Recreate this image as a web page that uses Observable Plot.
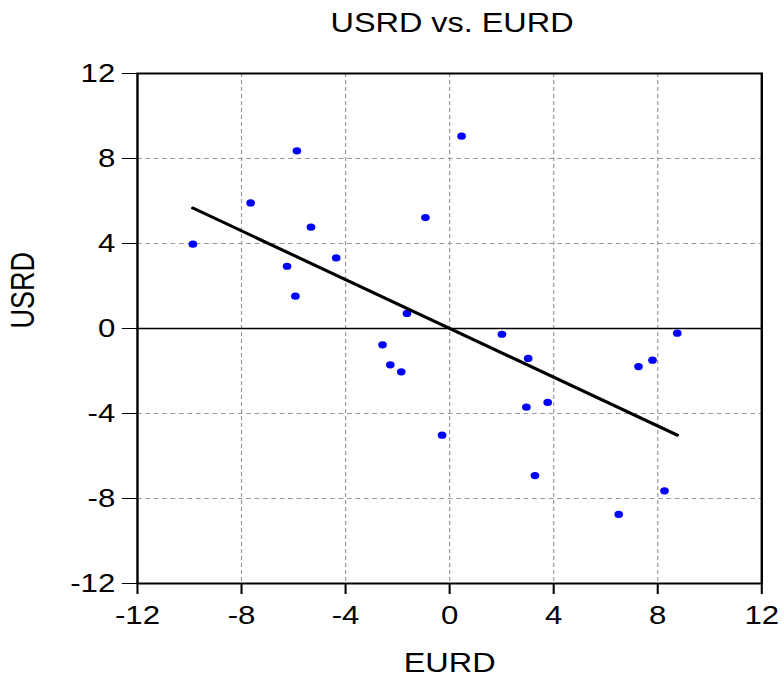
<!DOCTYPE html>
<html>
<head>
<meta charset="utf-8">
<script src="https://cdn.jsdelivr.net/npm/d3@7"></script>
<script src="https://cdn.jsdelivr.net/npm/@observablehq/plot@0.6"></script>
<style>
  html, body { margin: 0; padding: 0; background: #fff; }
  #chart { width: 784px; height: 682px; overflow: hidden; }
</style>
</head>
<body>
<div id="chart"></div>
<script>
// Data
const eurd = [-9.87, -7.65, -5.87, -5.33, -6.25, -5.93, -4.36, -0.93, -1.64, -2.58, -2.28, -1.86,
              -0.29, 0.46, 2.01, 8.75, 3.02, 7.26, 7.80, 2.95, 3.77, 3.28, 6.50, 8.26];
const usrd = [3.97, 5.91, 8.36, 4.77, 2.93, 1.52, 3.32, 5.22, 0.71, -0.77, -1.71, -2.04,
              -5.02, 9.05, -0.27, -0.22, -1.41, -1.79, -1.49, -3.70, -3.48, -6.92, -8.75, -7.64];
const tickValues = [-12, -8, -4, 0, 4, 8, 12];
const gridXValues = [-8, -4, 0, 4, 8];
const gridYValues = [-8, -4, 4, 8];
const titleText = "USRD vs. EURD";
const xLabel = "EURD";
const yLabel = "USRD";

const points = eurd.map((x, i) => ({EURD: x, USRD: usrd[i]}));

// The reference is horizontally stretched; draw at a narrower internal width and stretch.
const W = 653, H = 682;
const font = "'Liberation Sans', Arial, Helvetica, sans-serif";

const svg = Plot.plot({
  width: W,
  height: H,
  marginLeft: 114,
  marginRight: 19,
  marginTop: 73,
  marginBottom: 99,
  style: {fontFamily: font, fontSize: "26px", background: "#fff", color: "#000"},
  x: {domain: [-12, 12]},
  y: {domain: [-12, 12]},
  marks: [
    Plot.gridX(gridXValues, {stroke: "#999", strokeOpacity: 1, strokeWidth: 1, strokeDasharray: "4,3"}),
    Plot.gridY(gridYValues, {stroke: "#999", strokeOpacity: 1, strokeWidth: 1, strokeDasharray: "4,3"}),
    Plot.ruleY([0], {stroke: "#000", strokeWidth: 1.5}),
    Plot.axisX({ticks: tickValues, tickFormat: d => String(d), tickSize: 11, tickPadding: 11,
                strokeWidth: 1.7, fontSize: 26, label: null}),
    Plot.axisY({ticks: tickValues, tickFormat: d => String(d), tickSize: 12.5, tickPadding: 6,
                strokeWidth: 1, fontSize: 26, label: null}),
    Plot.dot(points, {x: "EURD", y: "USRD", r: 3.6, fill: "#0000ff", stroke: "none"}),
    Plot.linearRegressionY(points, {x: "EURD", y: "USRD", ci: 0, stroke: "#000", strokeWidth: 3}),
    Plot.frame({stroke: "#000", strokeWidth: 2}),
    Plot.text([titleText], {text: d => d, frameAnchor: "top", dx: 2, dy: -50.5, lineAnchor: "middle",
                            fontSize: 27, fill: "#000"}),
    Plot.text([xLabel], {text: d => d, frameAnchor: "bottom", dy: 80, lineAnchor: "middle",
                         fontSize: 27, fill: "#000"}),
    Plot.text([yLabel], {text: d => d, frameAnchor: "left", dx: -95, rotate: -90, lineAnchor: "middle",
                         fontSize: 27, fill: "#000"})
  ]
});

svg.setAttribute("viewBox", `0 0 ${W} ${H}`);
svg.setAttribute("preserveAspectRatio", "none");
svg.setAttribute("width", 784);
svg.setAttribute("height", H);
svg.style.width = "784px";
svg.style.height = H + "px";
svg.style.maxWidth = "none";
document.getElementById("chart").appendChild(svg);
</script>
</body>
</html>
